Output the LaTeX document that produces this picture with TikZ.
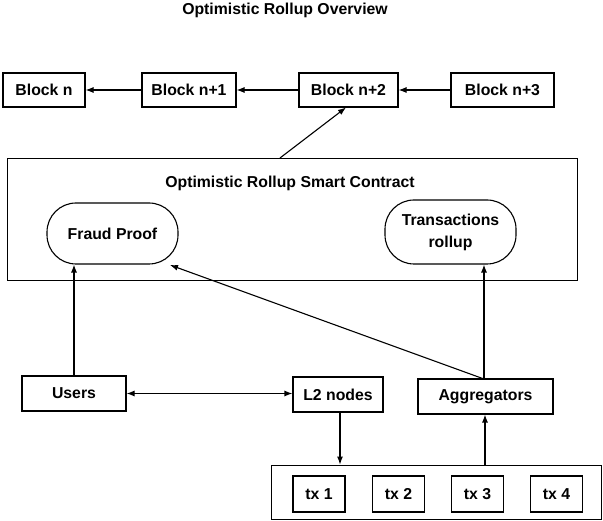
\documentclass[tikz,border=0pt]{standalone}
\usepackage{fontspec}
\setmainfont{Liberation Sans}
\usetikzlibrary{arrows.meta}
\begin{document}
\begin{tikzpicture}[x=1pt,y=-1pt,
  every node/.style={font=\fontsize{15.8}{17}\selectfont\bfseries},
  box/.style={draw,line width=1.1pt,minimum height=34pt,inner sep=0pt,align=center},
  round/.style={draw,line width=1.1pt,rounded corners=29pt,inner sep=0pt,align=center},
  frame/.style={draw,line width=0.9pt,inner sep=0pt},
  arr/.style={line width=1.1pt,-{Latex[length=8pt,width=6pt]}},
  darr/.style={line width=1.1pt,{Latex[length=8pt,width=6pt]}-{Latex[length=8pt,width=6pt]}}]
\useasboundingbox (0,0) rectangle (603,521);
\node (title) at (285,10) {Optimistic Rollup Overview};
% blocks
\node[box,minimum width=82pt] (b0) at (44,90) {Block n};
\node[box,minimum width=94pt] (b1) at (189,90) {Block n+1};
\node[box,minimum width=99pt] (b2) at (348.5,90) {Block n+2};
\node[box,minimum width=103pt] (b3) at (502.5,90) {Block n+3};
\draw[arr] (b1) -- (b0);
\draw[arr] (b2) -- (b1);
\draw[arr] (b3) -- (b2);
% contract
\node[frame,minimum width=570pt,minimum height=122pt] (sc) at (292,219) {};
\node (sct) at (290,183) {Optimistic Rollup Smart Contract};
\node[round,minimum width=131pt,minimum height=61pt] (fp) at (112.5,233.5) {Fraud Proof};
\node[round,minimum width=131pt,minimum height=64pt] (tr) at (450.5,232) {Transactions\\[5pt]rollup};
\coordinate (sctop) at (280,158);
\draw[arr] (sctop) -- (346,107.5);
% lower
\node[box,minimum width=104pt,minimum height=35pt] (us) at (74,393.5) {Users};
\node[box,minimum width=90pt,minimum height=35pt] (l2) at (338,394.5) {L2 nodes};
\node[box,minimum width=135pt,minimum height=35pt] (ag) at (485.5,396.5) {Aggregators};
\draw[arr] (us.north) -- (fp.south -| us.north);
\draw[darr] (us.east) -- (l2.west |- us.east);
\coordinate (agtop) at (484,379);
\draw[arr] (agtop) -- (170,265);
\draw[arr] (agtop) -- (tr.south -| agtop);
% tx
\node[frame,minimum width=330pt,minimum height=54pt] (txb) at (436,492) {};
\node[box,minimum width=52pt,minimum height=36pt] (t1) at (319,494) {tx 1};
\node[box,minimum width=52pt,minimum height=36pt] (t2) at (398.5,494) {tx 2};
\node[box,minimum width=52pt,minimum height=36pt] (t3) at (477.5,494) {tx 3};
\node[box,minimum width=52pt,minimum height=36pt] (t4) at (556.5,494) {tx 4};
\draw[arr] (l2.south -| 340,0) -- (txb.north -| 340,0);
\draw[arr] (txb.north -| 485,0) -- (ag.south -| 485,0);
\end{tikzpicture}
\end{document}
